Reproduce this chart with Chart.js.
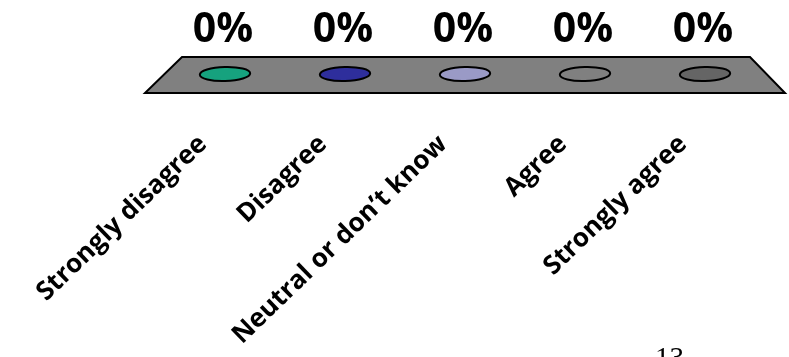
<!DOCTYPE html>
<html>
<head>
<meta charset="utf-8">
<script src="https://cdn.jsdelivr.net/npm/chart.js@4.4.1/dist/chart.umd.min.js"></script>
<style>
    html, body { margin: 0; padding: 0; background: #ffffff; overflow: hidden; }
    #wrap { position: relative; width: 789px; height: 357px; }
    #pageNo {
        position: absolute; left: 655px; top: 343px;
        font-family: 'Liberation Serif', serif; font-size: 29px; line-height: 29px;
        color: #000000;
    }
</style>
</head>
<body>
<div id="wrap">
    <canvas id="likertChart" width="789" height="357"></canvas>
    <div id="pageNo">13</div>
</div>
<script>
const categories = ['Strongly disagree', 'Disagree', 'Neutral or don’t know', 'Agree', 'Strongly agree'];
const percentValues = [0, 0, 0, 0, 0];
const barColors = ['#16a27e', '#2e2e9c', '#9a9ac6', '#808080', '#656565'];

// 床（灰色の台）を描く
const floorPlugin = {
    id: 'floor',
    beforeDatasetsDraw: (chart) => {
        const { ctx, chartArea } = chart;
        const base = chart.scales.y.getPixelForValue(0);
        const left = chartArea.left;
        const right = chartArea.right;
        ctx.save();
        ctx.beginPath();
        ctx.moveTo(left + 17, base - 18);
        ctx.lineTo(right - 15, base - 18);
        ctx.lineTo(right + 20, base + 18);
        ctx.lineTo(left - 20, base + 18);
        ctx.closePath();
        ctx.fillStyle = '#808080';
        ctx.fill();
        ctx.lineWidth = 2;
        ctx.strokeStyle = '#000000';
        ctx.stroke();
        ctx.restore();
    }
};

// 値0の棒を平たい形で描き、ラベルを付ける
const blobPlugin = {
    id: 'blobs',
    afterDatasetsDraw: (chart) => {
        const { ctx } = chart;
        const meta = chart.getDatasetMeta(0);
        const dataset = chart.data.datasets[0];
        meta.data.forEach((bar, i) => {
            const w = bar.width;
            const h = w * 0.28;
            ctx.save();
            ctx.beginPath();
            ctx.ellipse(bar.x, bar.base - 1, w / 2, h / 2, -0.03, 0, Math.PI * 2);
            ctx.fillStyle = dataset.backgroundColor[i];
            ctx.fill();
            ctx.lineWidth = 2;
            ctx.strokeStyle = '#000000';
            ctx.stroke();

            ctx.font = 'bold 41px "Open Sans"';
            ctx.fillStyle = '#000000';
            ctx.textAlign = 'center';
            ctx.textBaseline = 'middle';
            ctx.fillText(dataset.data[i] + '%', bar.x - 2, bar.base - 45);
            ctx.restore();
        });
    }
};

const ctx = document.getElementById('likertChart').getContext('2d');
new Chart(ctx, {
    type: 'bar',
    data: {
        labels: categories,
        datasets: [{
            label: '',
            data: percentValues,
            backgroundColor: barColors,
            borderWidth: 0,
            barPercentage: 0.42,
            categoryPercentage: 1
        }]
    },
    options: {
        responsive: false,
        animation: false,
        layout: {
            padding: { left: 165, right: 24, top: 10, bottom: 0 }
        },
        scales: {
            x: {
                grid: { display: false },
                border: { display: false },
                afterFit: (axis) => { axis.height = 282; },
                ticks: {
                    autoSkip: false,
                    minRotation: 44,
                    maxRotation: 44,
                    padding: 46,
                    labelOffset: -22,
                    color: '#000000',
                    font: { family: 'Open Sans', weight: 'bold', size: 26 }
                }
            },
            y: {
                display: false,
                min: 0,
                max: 1
            }
        },
        plugins: {
            legend: { display: false },
            tooltip: { enabled: false }
        }
    },
    plugins: [floorPlugin, blobPlugin]
});
</script>
</body>
</html>
